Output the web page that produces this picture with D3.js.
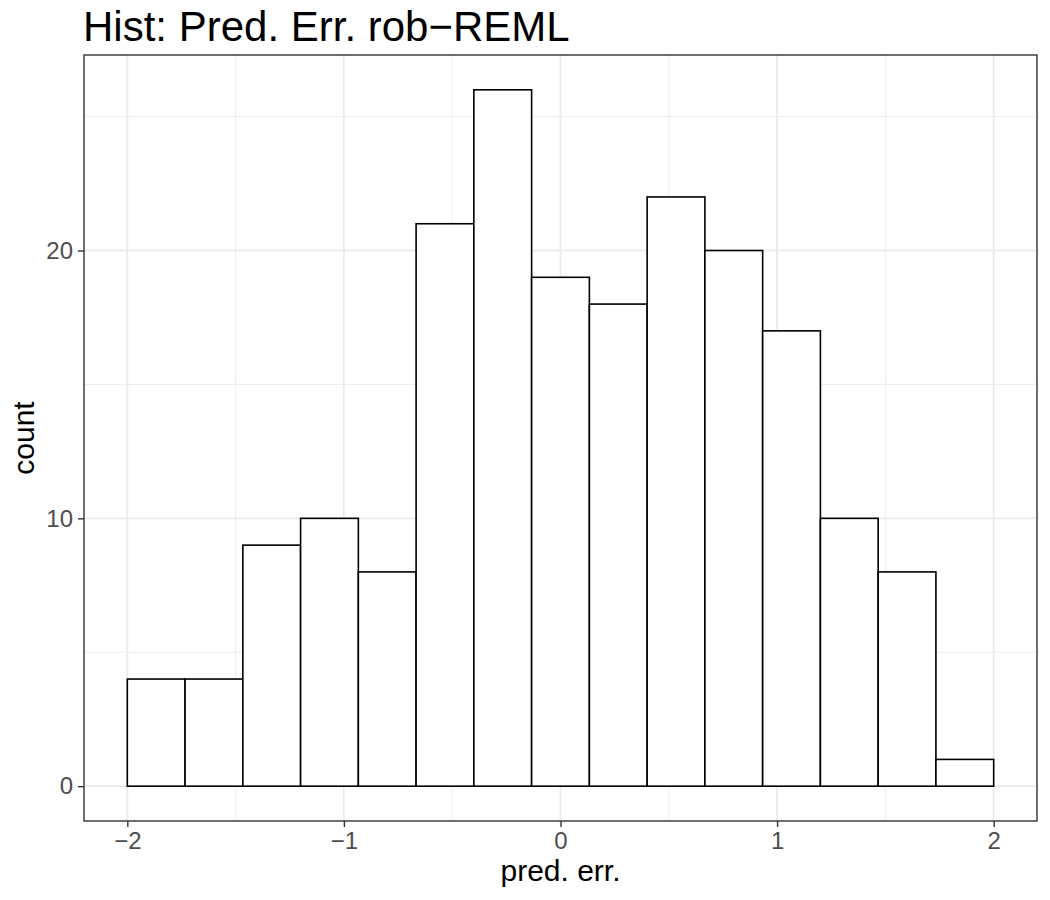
<!DOCTYPE html>
<html>
<head>
<meta charset="utf-8">
<title>Hist: Pred. Err. rob-REML</title>
<script src="https://cdn.jsdelivr.net/npm/d3@7"></script>
<style>
  body { margin: 0; background: #fff; }
  text { font-family: "Liberation Sans", Arial, sans-serif; }
</style>
</head>
<body>
<div id="chart"></div>
<script>
// histogram bins, 15 bins from -2 to 2
var binStart = -2, binEnd = 2, nBins = 15;
var counts = [4, 4, 9, 10, 8, 21, 26, 19, 18, 22, 20, 17, 10, 8, 1];
var xTicks = [-2, -1, 0, 1, 2];
var yTicks = [0, 10, 20];
var xMinor = [-1.5, -0.5, 0.5, 1.5];
var yMinor = [5, 15, 25];

var W = 1050, H = 900;
var margin = {top: 55, right: 13, bottom: 79, left: 84};
var w = W - margin.left - margin.right,
    h = H - margin.top - margin.bottom;

var binW = (binEnd - binStart) / nBins;
var bins = counts.map(function(c, i) {
  return {x0: binStart + i * binW, x1: binStart + (i + 1) * binW, n: c};
});

var xr = binEnd - binStart, yMax = d3.max(counts);
var x = d3.scaleLinear().domain([binStart - xr * 0.05, binEnd + xr * 0.05]).range([0, w]);
var y = d3.scaleLinear().domain([-yMax * 0.05, yMax * 1.05]).range([h, 0]);

var svg = d3.select("#chart").append("svg")
  .attr("width", W).attr("height", H);

var g = svg.append("g").attr("transform", "translate(" + margin.left + "," + margin.top + ")");

// minor grid
g.selectAll("line.xminor").data(xMinor).enter().append("line")
  .attr("x1", d => x(d)).attr("x2", d => x(d)).attr("y1", 0).attr("y2", h)
  .attr("stroke", "#EBEBEB").attr("stroke-width", 0.9);
g.selectAll("line.yminor").data(yMinor).enter().append("line")
  .attr("y1", d => y(d)).attr("y2", d => y(d)).attr("x1", 0).attr("x2", w)
  .attr("stroke", "#EBEBEB").attr("stroke-width", 0.9);
// major grid
g.selectAll("line.xmajor").data(xTicks).enter().append("line")
  .attr("x1", d => x(d)).attr("x2", d => x(d)).attr("y1", 0).attr("y2", h)
  .attr("stroke", "#EBEBEB").attr("stroke-width", 1.8);
g.selectAll("line.ymajor").data(yTicks).enter().append("line")
  .attr("y1", d => y(d)).attr("y2", d => y(d)).attr("x1", 0).attr("x2", w)
  .attr("stroke", "#EBEBEB").attr("stroke-width", 1.8);

// bars
g.selectAll("rect.bar").data(bins).enter().append("rect")
  .attr("x", d => x(d.x0))
  .attr("width", d => x(d.x1) - x(d.x0))
  .attr("y", d => y(d.n))
  .attr("height", d => y(0) - y(d.n))
  .attr("fill", "#fff")
  .attr("stroke", "#000")
  .attr("stroke-width", 1.6);

// panel border
g.append("rect").attr("width", w).attr("height", h)
  .attr("fill", "none").attr("stroke", "#333333").attr("stroke-width", 1.4);

// axes
var xAxis = g.append("g").attr("transform", "translate(0," + h + ")")
  .call(d3.axisBottom(x).tickValues(xTicks).tickSize(6).tickPadding(5)
    .tickFormat(d => String(d).replace("-", "\u2212")));
var yAxis = g.append("g")
  .call(d3.axisLeft(y).tickValues(yTicks).tickSize(6).tickPadding(5));
[xAxis, yAxis].forEach(function(a) {
  a.select(".domain").remove();
  a.attr("font-size", null).attr("font-family", null);
  a.selectAll(".tick line").attr("stroke", "#333333").attr("stroke-width", 1.4);
  a.selectAll(".tick text").attr("fill", "#4D4D4D")
    .style("font-family", "'Liberation Sans', Arial, sans-serif").style("font-size", "24px");
});

// titles
svg.append("text").attr("x", margin.left - 1).attr("y", 41)
  .style("font-size", "42px").attr("fill", "#000")
  .text("Hist: Pred. Err. rob\u2212REML");
svg.append("text").attr("x", margin.left + w / 2).attr("y", 881)
  .attr("text-anchor", "middle").style("font-size", "30px").attr("fill", "#000")
  .text("pred. err.");
svg.append("text")
  .attr("transform", "translate(34," + (margin.top + h / 2) + ") rotate(-90)")
  .attr("text-anchor", "middle").style("font-size", "30px").attr("fill", "#000")
  .text("count");
</script>
</body>
</html>
